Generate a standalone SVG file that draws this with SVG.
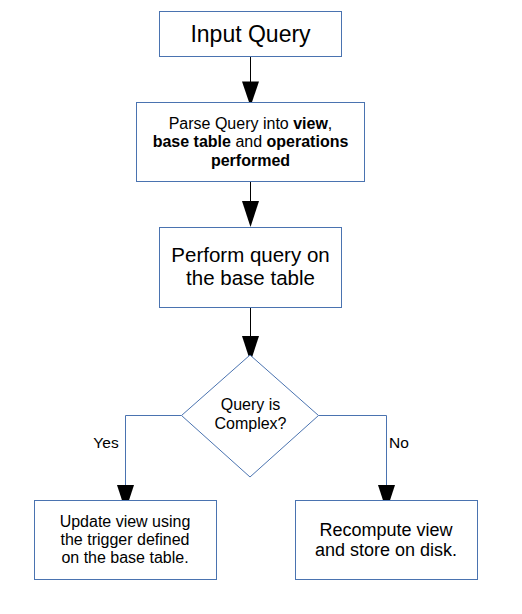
<svg xmlns="http://www.w3.org/2000/svg" width="522" height="614" viewBox="0 0 522 614">
<style>
.box{fill:#ffffff;stroke:#4a73b0;stroke-width:1}
.t{font-family:"Liberation Sans",Arial,sans-serif;fill:#000000;text-anchor:middle}
.b{font-weight:bold}
.k{stroke:#000000;stroke-width:1;fill:none}
.c{stroke:#4a73b0;stroke-width:1;fill:none}
.ah{fill:#000000;stroke:none}
</style>
<rect width="522" height="614" fill="#ffffff"/>
<g id="connectors">
<line class="k" x1="250.5" y1="56.5" x2="250.5" y2="90"/>
<polygon class="ah" points="242,81.5 259,81.5 250.5,106.5"/>
<line class="k" x1="250.5" y1="181.5" x2="250.5" y2="210"/>
<polygon class="ah" points="242,201 259,201 250.5,227"/>
<line class="k" x1="250.5" y1="307.5" x2="250.5" y2="345"/>
<polygon class="ah" points="242,336 259,336 250.5,362"/>
<polyline class="c" points="181.5,415.5 125.5,415.5 125.5,495"/>
<polygon class="ah" points="117,485 134,485 125.5,511"/>
<polyline class="c" points="318.5,415.5 386.5,415.5 386.5,495"/>
<polygon class="ah" points="378,485 395,485 386.5,511"/>
<text class="t" x="106" y="447.5" font-size="15.5">Yes</text>
<text class="t" x="399" y="447.5" font-size="15.5">No</text>
</g>
<g id="input-query">
<rect class="box" x="159.5" y="11.5" width="182" height="45"/>
<text class="t" x="250.5" y="41.5" font-size="23">Input Query</text>
</g>
<g id="parse-query">
<rect class="box" x="136.5" y="102.5" width="228" height="79"/>
<text class="t" font-size="16"><tspan x="250.5" y="128.5">Parse Query into <tspan class="b">view</tspan>,</tspan><tspan x="250.5" y="147"><tspan class="b">base table</tspan> and <tspan class="b">operations</tspan></tspan><tspan class="b" x="250.5" y="165.5">performed</tspan></text>
</g>
<g id="perform-query">
<rect class="box" x="159.5" y="227.5" width="182" height="80"/>
<text class="t" font-size="20.5"><tspan x="250.5" y="261.5">Perform query on</tspan><tspan x="250.5" y="285">the base table</tspan></text>
</g>
<g id="decision">
<polygon class="box" points="250,355 318.5,415.5 250,477 181.5,415.5"/>
<text class="t" font-size="16"><tspan x="250.5" y="410">Query is</tspan><tspan x="250.5" y="428.5">Complex?</tspan></text>
</g>
<g id="update-view">
<rect class="box" x="34.5" y="500.5" width="182" height="79"/>
<text class="t" font-size="16"><tspan x="125" y="526.5">Update view using</tspan><tspan x="125" y="544.5">the trigger defined</tspan><tspan x="125" y="562.5">on the base table.</tspan></text>
</g>
<g id="recompute-view">
<rect class="box" x="295.5" y="500.5" width="182" height="79"/>
<text class="t" font-size="18"><tspan x="386" y="535.5">Recompute view</tspan><tspan x="386" y="555.5">and store on disk.</tspan></text>
</g>
</svg>
